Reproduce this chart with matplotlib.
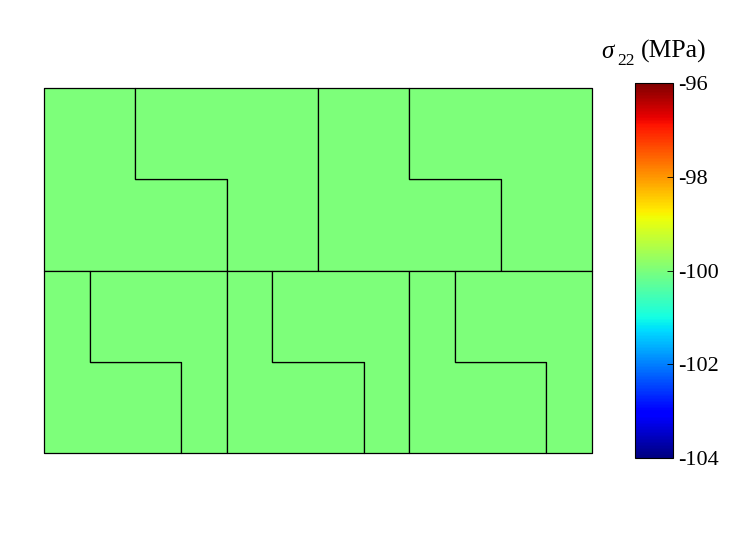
import matplotlib
matplotlib.use("Agg")
import matplotlib.pyplot as plt
from matplotlib.collections import PolyCollection
from matplotlib.colors import Normalize
import matplotlib.cm as cm
import numpy as np

plt.rcParams['font.family'] = ['Liberation Serif', 'DejaVu Serif']

# Domain
domain_w = 6.0
domain_h = 4.0

# Top row blocks: (x0, width, step1, step2), y from 2 to 4, step at y=3
top_blocks = [(0.0, 3.0, 1.0, 2.0), (3.0, 3.0, 4.0, 5.0)]
top_y = (2.0, 3.0, 4.0)
# Bottom row blocks, y from 0 to 2, step at y=1
bot_blocks = [(0.0, 2.0, 0.5, 1.5), (2.0, 2.0, 2.5, 3.5), (4.0, 2.0, 4.5, 5.5)]
bot_y = (0.0, 1.0, 2.0)

# stress value of every piece (MPa)
stress_values = [-100.0] * 10

vmin, vmax = -104, -96
cbar_ticks = [-104, -102, -100, -98, -96]


def pieces(block, ys):
    x0, w, s1, s2 = block
    yb, ym, yt = ys
    left = [(x0, yb), (s2, yb), (s2, ym), (s1, ym), (s1, yt), (x0, yt)]
    right = [(s2, yb), (x0 + w, yb), (x0 + w, yt), (s1, yt), (s1, ym), (s2, ym)]
    return [left, right]


polys = []
for b in top_blocks:
    polys += pieces(b, top_y)
for b in bot_blocks:
    polys += pieces(b, bot_y)

fig = plt.figure(figsize=(7.3, 5.4), dpi=100)
ax = fig.add_axes([44 / 730, 1 - 453 / 540, 548 / 730, 365 / 540])
norm = Normalize(vmin=vmin, vmax=vmax)
pc = PolyCollection(polys, array=np.array(stress_values), cmap='jet', norm=norm,
                    edgecolors='black', linewidths=0.9, clip_on=False)
ax.add_collection(pc)
ax.set_xlim(0, domain_w)
ax.set_ylim(0, domain_h)
ax.axis('off')

cax = fig.add_axes([635 / 730, 1 - 458 / 540, 38 / 730, 375 / 540])
cb = fig.colorbar(cm.ScalarMappable(norm=norm, cmap='jet'), cax=cax, ticks=cbar_ticks)
cb.ax.tick_params(direction='in', length=4, width=0.6, labelsize=16, pad=4)
cb.ax.set_yticklabels([f"{t:d}" for t in cbar_ticks])
cb.outline.set_linewidth(0.8)

fig.text(601 / 730, 1 - 58 / 540, "σ", style='italic', ha='left', va='baseline', fontsize=18)
fig.text(617 / 730, 1 - 65 / 540, "22", ha='left', va='baseline', fontsize=12.5)
fig.text(641 / 730, 1 - 58 / 540, "(MPa)", ha='left', va='baseline', fontsize=18.5)

fig.savefig("out.png", dpi=100)
